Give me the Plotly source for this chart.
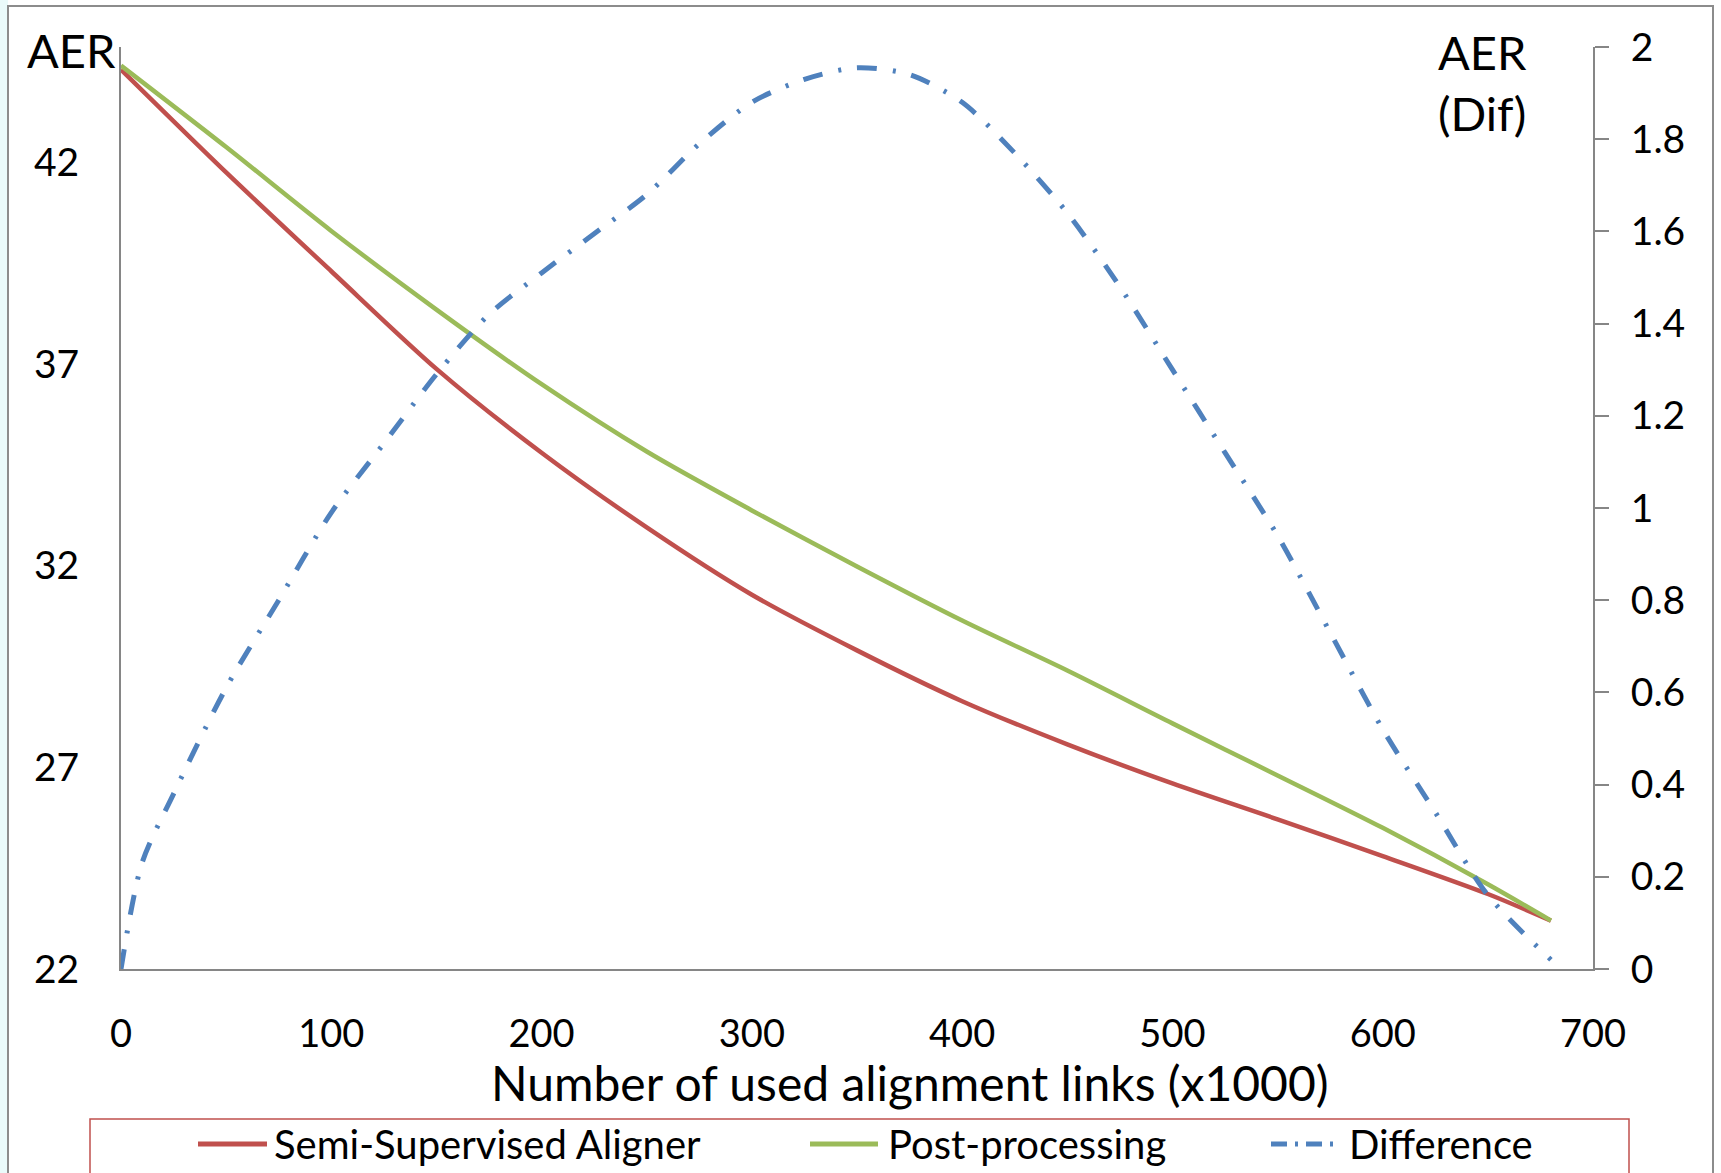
import plotly.graph_objects as go

# ---------------- data ----------------
links = [0, 50, 100, 150, 200, 250, 300, 350, 400, 450, 500, 550, 600, 650, 680]
semi_supervised = [44.30, 41.75, 39.30, 36.88, 34.80, 32.95, 31.28, 29.90, 28.64, 27.57,
                   26.60, 25.71, 24.80, 23.86, 23.20]
post_processing = [44.40, 42.38, 40.30, 38.35, 36.50, 34.83, 33.37, 31.98, 30.64, 29.40,
                   28.09, 26.80, 25.50, 24.10, 23.20]

diff_links = [0, 10, 25, 50, 75, 100, 125, 150, 175, 200, 225, 250, 275, 300, 325, 350,
              375, 400, 425, 450, 475, 500, 525, 550, 575, 600, 625, 650, 680]
difference = [0.00, 0.23, 0.38, 0.61, 0.80, 0.99, 1.14, 1.29, 1.42, 1.51, 1.595, 1.68, 1.79,
              1.88, 1.93, 1.955, 1.94, 1.88, 1.77, 1.64, 1.48, 1.30, 1.12, 0.94, 0.73, 0.52,
              0.34, 0.16, 0.02]

left_ticks = [22, 27, 32, 37, 42]
right_ticks = [0, 0.2, 0.4, 0.6, 0.8, 1, 1.2, 1.4, 1.6, 1.8, 2]
x_ticks = [0, 100, 200, 300, 400, 500, 600, 700]

series_names = ["Semi-Supervised Aligner", "Post-processing", "Difference"]
RED, GREEN, BLUE = "#C0504D", "#9BBB59", "#4F81BD"
AXIS = "#868686"
FONT = "Lato, 'Open Sans', sans-serif"

# ---------------- geometry ----------------
W, H = 1721, 1173
L, R, T, B = 121, 1593, 47, 969
PW, PH = R - L, B - T


def px(x):
    return (x - L) / PW


def py(y):
    return (B - y) / PH


fig = go.Figure()
fig.add_trace(go.Scatter(x=links, y=semi_supervised, name=series_names[0], mode="lines",
                         line=dict(color=RED, width=4.5, shape="spline", smoothing=0.8),
                         showlegend=False))
fig.add_trace(go.Scatter(x=links, y=post_processing, name=series_names[1], mode="lines",
                         line=dict(color=GREEN, width=4.5, shape="spline", smoothing=0.8),
                         showlegend=False))
fig.add_trace(go.Scatter(x=diff_links, y=difference, name=series_names[2], mode="lines",
                         yaxis="y2",
                         line=dict(color=BLUE, width=5, shape="spline", smoothing=0.8,
                                   dash="20px,16px,3px,16px"),
                         showlegend=False))

shapes = []
# chart area background strip and border
shapes.append(dict(type="rect", xref="paper", yref="paper", x0=-0.2, x1=px(8),
                   y0=-0.4, y1=1.2, fillcolor="#EAFAFA", line=dict(width=0), layer="below"))
shapes.append(dict(type="rect", xref="paper", yref="paper", x0=px(8), x1=px(1713),
                   y0=py(1200), y1=py(6), line=dict(color="#8C8C8C", width=2),
                   fillcolor="rgba(0,0,0,0)", layer="below"))
# legend box
shapes.append(dict(type="rect", xref="paper", yref="paper", x0=px(90), x1=px(1629),
                   y0=py(1200), y1=py(1119), line=dict(color=RED, width=1.5),
                   fillcolor="rgba(0,0,0,0)"))

annotations = []
legend_y = py(1144)
legend_items = [(198, 267, 272, RED, "solid"),
                (810, 878, 886, GREEN, "solid"),
                (1271, 1341, 1347, BLUE, "16px,8px,3px,8px")]
for name, (s0, s1, tx, col, dash) in zip(series_names, legend_items):
    shapes.append(dict(type="line", xref="paper", yref="paper", x0=px(s0), x1=px(s1),
                       y0=legend_y, y1=legend_y, line=dict(color=col, width=5, dash=dash)))
    annotations.append(dict(text=name, xref="paper", yref="paper", x=px(tx), y=legend_y,
                            xanchor="left", yanchor="middle", showarrow=False,
                            font=dict(size=40, color="black", family=FONT)))

# axis titles
annotations.append(dict(text="AER", xref="paper", yref="paper", x=px(25), y=py(50),
                        xanchor="left", yanchor="middle", showarrow=False,
                        font=dict(size=47, color="black", family=FONT)))
annotations.append(dict(text="AER<br>(Dif)", xref="paper", yref="paper", x=px(1436), y=py(82),
                        xanchor="left", yanchor="middle", align="left", showarrow=False,
                        font=dict(size=47, color="black", family=FONT)))
annotations.append(dict(text="Number of used alignment links (x1000)", xref="paper",
                        yref="paper", x=px(910), y=py(1082), xanchor="center",
                        yanchor="middle", showarrow=False,
                        font=dict(size=48, color="black", family=FONT)))

fig.update_layout(
    width=W, height=H,
    margin=dict(l=L, r=W - R, t=T, b=H - B, pad=0),
    paper_bgcolor="white", plot_bgcolor="white",
    showlegend=False,
    font=dict(family=FONT, color="black"),
    xaxis=dict(range=[0, 700], tickvals=x_ticks, showgrid=False, zeroline=False,
               showline=True, linecolor=AXIS, linewidth=2, ticks="",
               tickfont=dict(size=38, family=FONT), ticklabelstandoff=30),
    yaxis=dict(range=[22, 44.86], tickvals=left_ticks, showgrid=False, zeroline=False,
               showline=True, linecolor=AXIS, linewidth=2, ticks="",
               tickfont=dict(size=39, family=FONT), ticklabelstandoff=32),
    yaxis2=dict(range=[0, 2], tickvals=right_ticks, overlaying="y", side="right",
                showgrid=False, zeroline=False, showline=True, linecolor=AXIS, linewidth=2,
                ticks="outside", ticklen=14, tickcolor=AXIS, tickwidth=2,
                tickfont=dict(size=39, family=FONT), ticklabelstandoff=14),
    shapes=shapes,
    annotations=annotations,
)

fig.write_html("out.html", config={"displayModeBar": False},
               post_script="document.body.style.margin='0';document.body.style.overflow='hidden';")
